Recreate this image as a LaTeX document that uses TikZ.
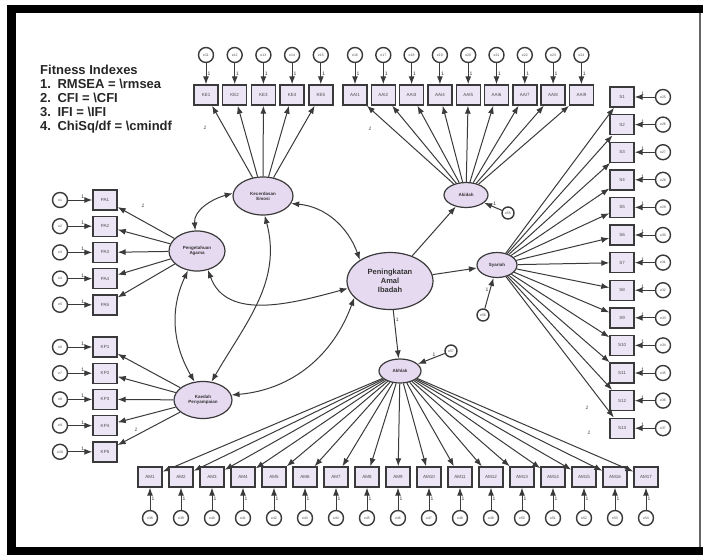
\documentclass[tikz,border=0pt]{standalone}
\usepackage{fontspec}
\setmainfont{Liberation Sans}
\usetikzlibrary{arrows.meta,shapes.geometric}
\definecolor{boxfill}{HTML}{ECE5F5}
\definecolor{latfill}{HTML}{E6DAF0}
\definecolor{edge}{HTML}{3A3A3A}

\tikzset{
  obs/.style={draw=edge, fill=boxfill, line width=1.4pt, minimum width=24pt, minimum height=20pt, inner sep=0pt, text=black!70, font=\fontsize{4.5}{5}\selectfont},
  lat/.style={ellipse, draw=edge, fill=latfill, line width=1.2pt, inner sep=0pt, align=center, text=black!80, font=\bfseries\fontsize{4.5}{5}\selectfont},
  err/.style={circle, draw=edge, fill=white, line width=1.4pt, minimum size=15pt, inner sep=0pt, text=black!70, font=\fontsize{3.5}{4}\selectfont},
  path/.style={-{Latex[length=8pt,width=6pt]}, line width=1pt, draw=edge},
  cov/.style={{Latex[length=8pt,width=6pt]}-{Latex[length=8pt,width=6pt]}, line width=1pt, draw=edge},
  one/.style={font=\fontsize{5}{5}\selectfont, inner sep=1pt, text=black!80}
}

\begin{document}
\begin{tikzpicture}[x=1pt,y=1pt]
\useasboundingbox (0,0) rectangle (703,-555);
% frame
\fill[black] (7,-5) rectangle (703,-13);
\fill[black] (7,-5) rectangle (16,-555);
\fill[black] (7,-547) rectangle (703,-555);
\draw[black!60, line width=1.5pt] (700,-13) -- (700,-547);

% fit indexes
\node[anchor=north west, align=left, inner sep=0pt, text=black!85,
      font=\bfseries\fontsize{13}{14}\selectfont] (fit) at (40,-65)
  {Fitness Indexes\\
   1.\enspace RMSEA = \textbackslash rmsea\\
   2.\enspace CFI = \textbackslash CFI\\
   3.\enspace IFI = \textbackslash IFI\\
   4.\enspace ChiSq/df = \textbackslash cmindf};

% latent variables
\node[lat, minimum width=56pt, minimum height=40pt] (PeA) at (197,-251) {Pengetahuan\\Agama};
\node[lat, minimum width=60pt, minimum height=38pt] (KeE) at (263,-196) {Kecerdasan\\Emosi};
\node[lat, minimum width=58pt, minimum height=37pt] (KaP) at (203,-400) {Kaedah\\Penyampaian};
\node[lat, minimum width=86pt, minimum height=57pt, font=\bfseries\fontsize{7.5}{9}\selectfont] (PAI) at (390,-281) {Peningkatan\\Amal\\Ibadah};
\node[lat, minimum width=44pt, minimum height=25pt] (Akd) at (466,-195) {Akidah};
\node[lat, minimum width=40pt, minimum height=25pt] (Syr) at (497,-265) {Syariah};
\node[lat, minimum width=42pt, minimum height=24pt] (Akh) at (400,-371) {Akhlak};

% residuals
\node[err, minimum size=12pt] (e55) at (508,-213) {e55};
\node[err, minimum size=12pt] (e56) at (483,-315) {e56};
\node[err, minimum size=12pt] (e57) at (451,-351) {e57};
\draw[path] (e55) -- node[one, above, pos=0.4]{1} (Akd);
\draw[path] (e56) -- node[one, left, pos=0.6]{1} (Syr);
\draw[path] (e57) -- node[one, above, pos=0.4]{1} (Akh);

% structural paths
\draw[path] (PAI) -- (Akd);
\draw[path] (PAI) -- (Syr);
\draw[path] (PAI) -- node[one, right, pos=0.2]{1} (Akh);

% covariances
\draw[cov] (PeA.95) to[out=95, in=195] (KeE.175);
\draw[cov] (KeE.-15) to[out=-5, in=110] (PAI.145);
\draw[cov] (PeA.-60) to[out=-70, in=195] (PAI.190);
\draw[cov] (KaP.10) to[out=5, in=250] (PAI.205);
\draw[cov] (KeE.-85) to[out=-75, in=60] (KaP.65);
\draw[cov] (PeA.-115) to[out=-115, in=120] (KaP.115);

% Pengetahuan Agama
\foreach \i [evaluate=\i as \y using -200-26.2*(\i-1)] in {1,...,5}{
  \node[obs] (PA\i) at (105,\y) {PA\i};
  \node[err] (e\i) at (60,\y) {e\i};
  \draw[path] (e\i) -- node[one, above, pos=0.6]{1} (PA\i);
  \draw[path] (PeA) -- (PA\i);
}
\node[one] at (143,-206) {\itshape 1};

% Kaedah Penyampaian
\foreach \i [evaluate=\i as \y using -347-26.2*(\i-1), evaluate=\i as \k using int(\i+5)] in {1,...,5}{
  \node[obs] (KP\i) at (105,\y) {KP\i};
  \node[err] (e\k) at (60,\y) {e\k};
  \draw[path] (e\k) -- node[one, above, pos=0.6]{1} (KP\i);
  \draw[path] (KaP) -- (KP\i);
}
\node[one] at (136,-430) {\itshape 1};

% Kecerdasan Emosi
\foreach \i [evaluate=\i as \x using 206+28.7*(\i-1), evaluate=\i as \k using int(\i+10)] in {1,...,5}{
  \node[obs] (KE\i) at (\x,-95) {KE\i};
  \node[err] (e\k) at (\x,-55) {e\k};
  \draw[path] (e\k) -- node[one, right, pos=0.5]{1} (KE\i);
  \draw[path] (KeE) -- (KE\i);
}
\node[one] at (205,-128) {\itshape 1};

% Akidah
\foreach \i [evaluate=\i as \x using 355+28.3*(\i-1), evaluate=\i as \k using int(\i+15)] in {1,...,9}{
  \node[obs] (AAI\i) at (\x,-95) {AAI\i};
  \node[err] (e\k) at (\x,-55) {e\k};
  \draw[path] (e\k) -- node[one, right, pos=0.5]{1} (AAI\i);
  \draw[path] (Akd) -- (AAI\i);
}
\node[one] at (370,-129) {\itshape 1};

% Syariah
\foreach \i [evaluate=\i as \y using -97-27.6*(\i-1), evaluate=\i as \k using int(\i+24)] in {1,...,13}{
  \node[obs] (S\i) at (622,\y) {S\i};
  \node[err] (e\k) at (663,\y) {e\k};
  \draw[path] (e\k) -- node[one, above, pos=0.6]{1} (S\i);
  \draw[path] (Syr) -- (S\i);
}
\node[one] at (587,-408) {\itshape 1};
\node[one] at (589,-433) {\itshape 1};

% Akhlak
\foreach \i [evaluate=\i as \x using 150+31*(\i-1), evaluate=\i as \k using int(\i+37)] in {1,...,17}{
  \node[obs] (AM\i) at (\x,-477) {AM\i};
  \node[err] (e\k) at (\x,-518) {e\k};
  \draw[path] (e\k) -- node[one, right, pos=0.5]{1} (AM\i);
  \draw[path] (Akh) -- (AM\i);
}
\end{tikzpicture}
\end{document}
